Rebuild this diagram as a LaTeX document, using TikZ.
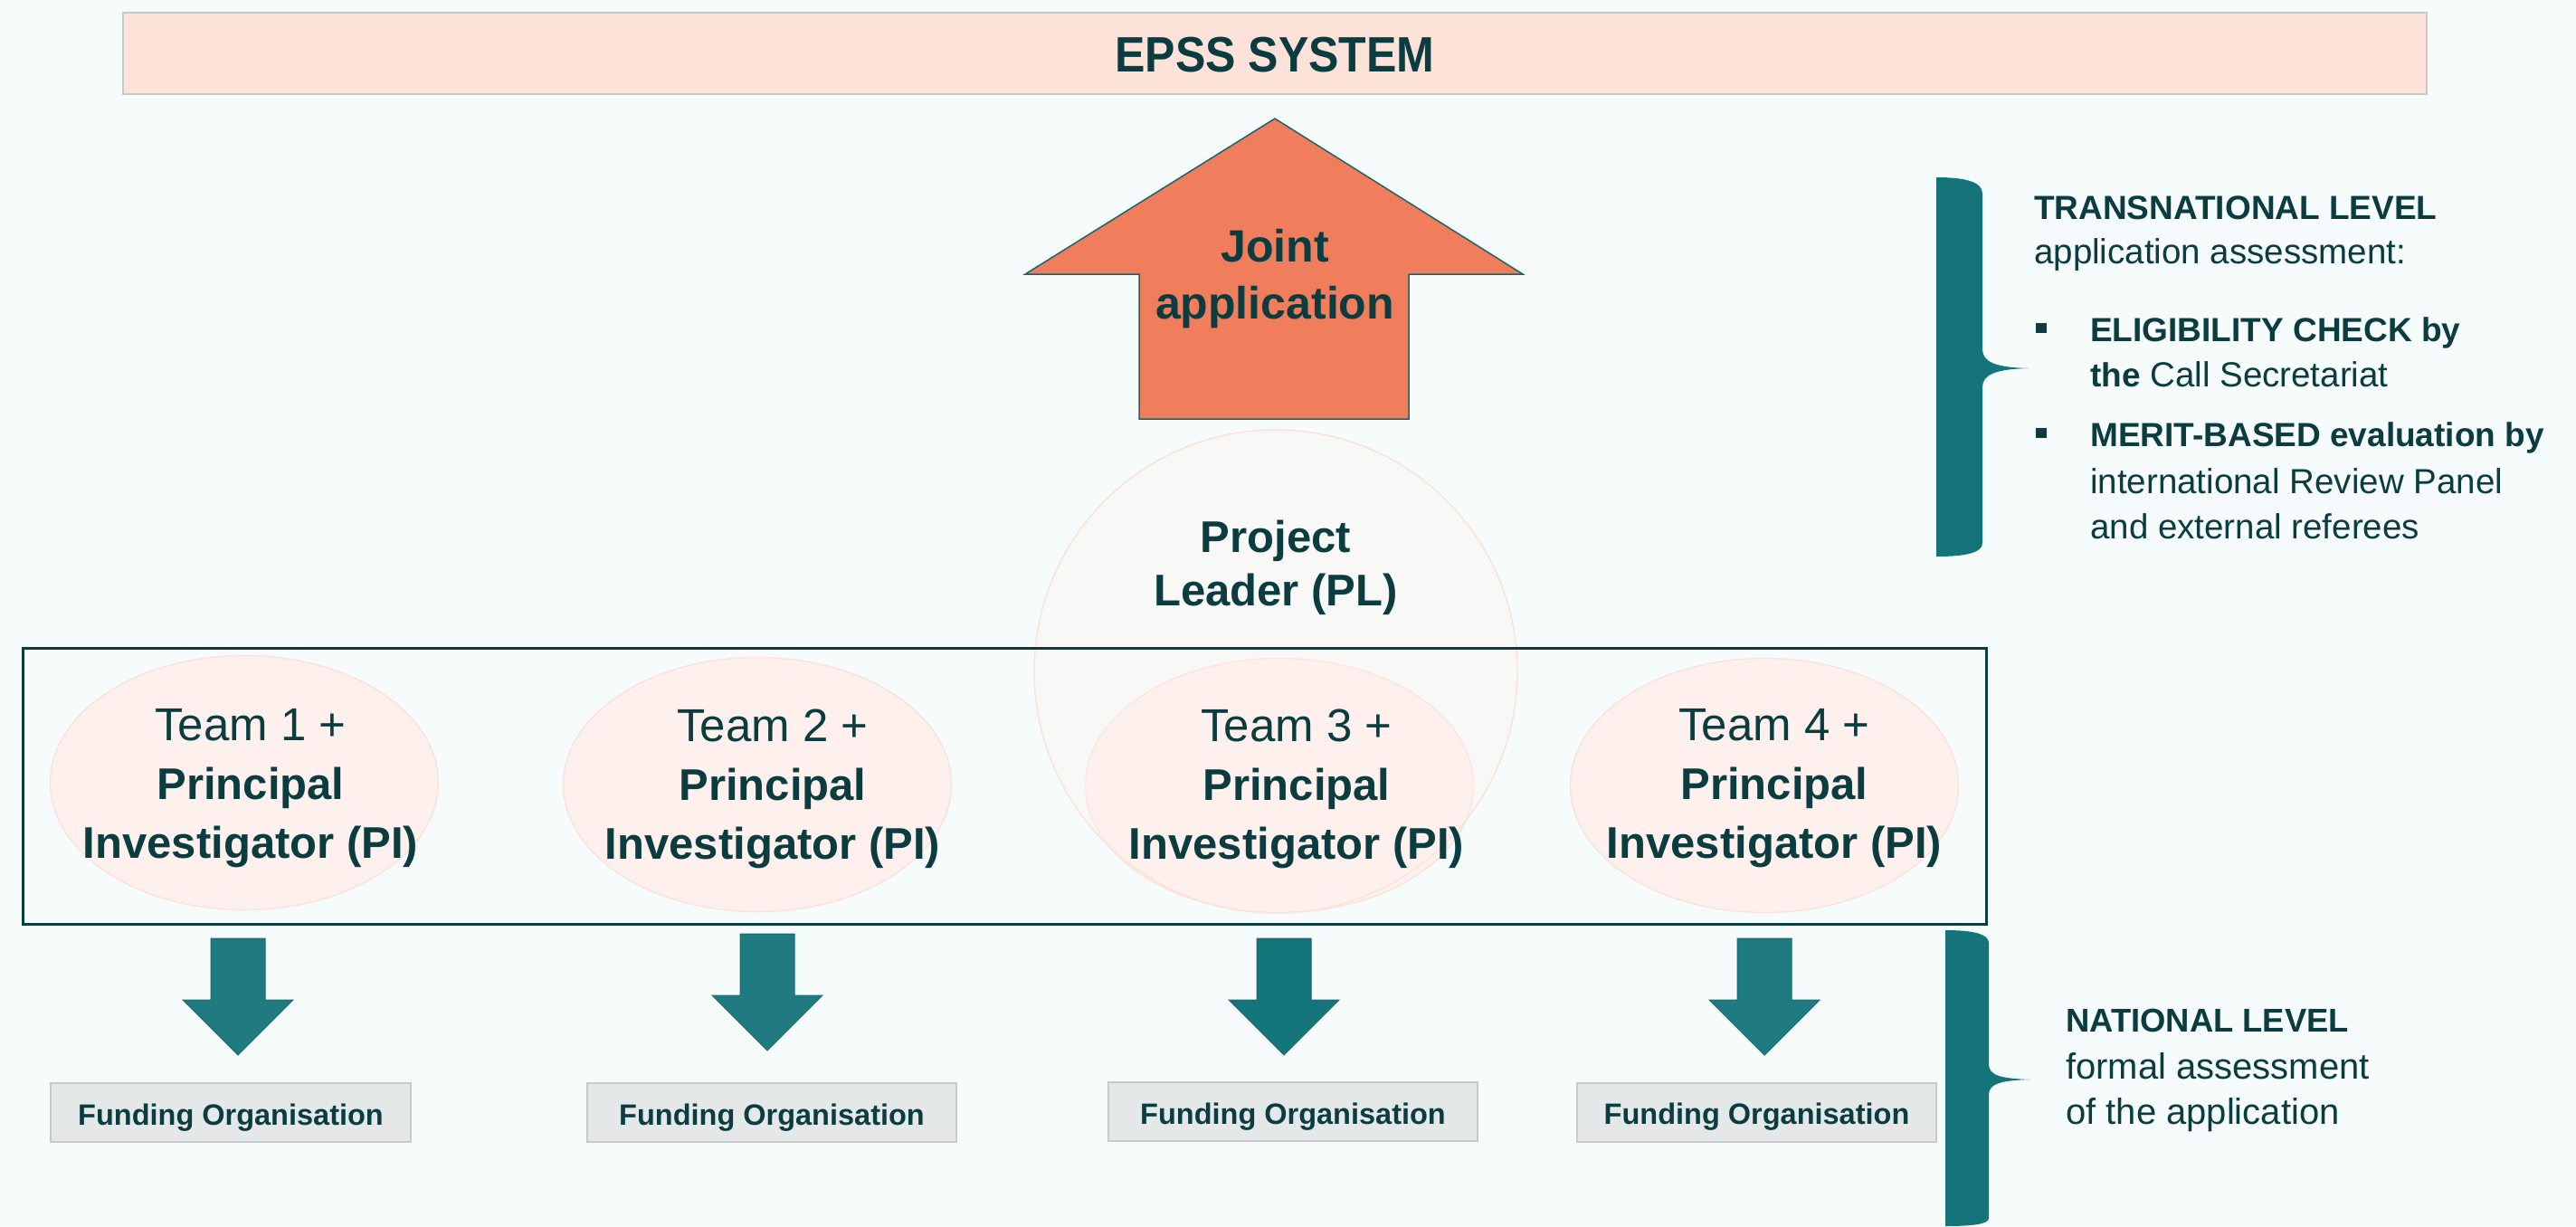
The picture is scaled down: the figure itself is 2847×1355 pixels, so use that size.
\documentclass[tikz,border=0pt]{standalone}
\usepackage{fontspec}
\setmainfont{Liberation Sans}
\newfontfamily\narrowsans[FakeStretch=0.91]{Liberation Sans}
\usetikzlibrary{shapes.geometric}
\definecolor{bgc}{HTML}{F6FCFC}
\definecolor{txtc}{HTML}{0B3C40}
\definecolor{epssfill}{HTML}{FCE2D9}
\definecolor{grayline}{HTML}{C9C9C9}
\definecolor{coral}{HTML}{F07D5C}
\definecolor{coralline}{HTML}{1B6469}
\definecolor{pinkfill}{HTML}{FEF1ED}
\definecolor{pinkline}{HTML}{FBE3DC}
\definecolor{tealA}{HTML}{1F7B80}
\definecolor{tealB}{HTML}{13747A}
\definecolor{tealline}{HTML}{1A6A70}
\definecolor{bracec}{HTML}{147479}
\definecolor{fofill}{HTML}{E5E8E8}
\newcommand{\myfs}[2]{\fontsize{#1pt}{#2pt}\selectfont}
\tikzset{
  txt/.style={text=txtc, inner sep=0pt},
  teamell/.style={ellipse, fill=pinkfill, draw=pinkline, line width=1.5pt, minimum width=429, minimum height=281, inner sep=0pt},
  teamtxt/.style={txt, anchor=north, align=center, font=\myfs{51}{65}},
  fobox/.style={rectangle, fill=fofill, draw=grayline, line width=2pt, minimum width=398, minimum height=65, inner sep=0pt, text height=27pt, text depth=0pt, text=txtc, font=\myfs{32.5}{36}\bfseries},
  rbold/.style={txt, anchor=base west, font=\myfs{37}{40}\bfseries},
  rreg/.style={txt, anchor=base west, font=\myfs{38.5}{40}},
  pics/downarr/.style={code={
    \fill[#1, draw=tealline, line width=1pt] (-30,0) -- (30,0) -- (30,68) -- (61,68) -- (0,129) -- (-61,68) -- (-30,68) -- cycle;
  }}
}
\begin{document}
\begin{tikzpicture}[x=1pt, y=-1pt]
\useasboundingbox (0,0) rectangle (2847,1355);
\fill[bgc] (0,0) rectangle (2847,1355);

% EPSS system bar
\node[rectangle, fill=epssfill, draw=grayline, line width=2.5pt, minimum width=2546, minimum height=90, inner sep=0pt] (epss) at (1409,59) {};
\node[txt, font=\narrowsans\myfs{55}{60}\bfseries] (epsstxt) at (1409,60.5) {EPSS SYSTEM};

% Joint application up arrow
\fill[coral, draw=coralline, line width=1.5pt] (1409,131) -- (1683,303) -- (1557,303) -- (1557,463) -- (1259,463) -- (1259,303) -- (1133,303) -- cycle;
\node[txt, anchor=north, align=center, font=\myfs{50}{63}\bfseries] (joint) at (1409,253.5) {Joint\\application};

% Team ellipses
\node[teamell] (team1) at (270,865) {};
\node[teamell] (team2) at (837,867) {};
\node[teamell] (team3) at (1414,868) {};
\node[teamell] (team4) at (1950,868) {};

% Project leader circle
\node[circle, fill=pinkfill, fill opacity=0.35, draw=pinkline, line width=1.5pt, minimum size=534, inner sep=0pt] (pl) at (1410,742) {};
\node[txt, anchor=north, align=center, font=\myfs{49}{59}\bfseries] (pltxt) at (1410,575) {Project\\Leader (PL)};

% Frame around teams
\node[rectangle, draw=txtc, line width=3pt, minimum width=2170, minimum height=305, inner sep=0pt] (frame) at (1110,868.5) {};

% Team texts
\node[teamtxt] (t1) at (277,783.5) {Team 1 +\\{\myfs{49}{65}\bfseries Principal}\\{\myfs{49}{65}\bfseries Investigator (PI)}};
\node[teamtxt] (t2) at (854,783.5) {Team 2 +\\{\myfs{49}{65}\bfseries Principal}\\{\myfs{49}{65}\bfseries Investigator (PI)}};
\node[teamtxt] (t3) at (1433,783.5) {Team 3 +\\{\myfs{49}{65}\bfseries Principal}\\{\myfs{49}{65}\bfseries Investigator (PI)}};
\node[teamtxt] (t4) at (1961,783.5) {Team 4 +\\{\myfs{49}{65}\bfseries Principal}\\{\myfs{49}{65}\bfseries Investigator (PI)}};

% Down arrows
\pic at (263,1037) {downarr=tealA};
\pic at (848,1032) {downarr=tealA};
\pic at (1419,1037) {downarr=tealB};
\pic at (1950,1037) {downarr=tealA};

% Funding organisation boxes
\node[fobox] (fo1) at (255,1229.5) {Funding Organisation};
\node[fobox, minimum width=408] (fo2) at (853,1229.5) {Funding Organisation};
\node[fobox, minimum width=408] (fo3) at (1429,1228.5) {Funding Organisation};
\node[fobox, minimum width=397] (fo4) at (1941.5,1229) {Funding Organisation};

% Braces
\fill[bracec] (2140,196) .. controls (2172,196) and (2191,201) .. (2191,214) -- (2191,386) .. controls (2191,400) and (2205,406) .. (2242,407) .. controls (2205,408) and (2191,414) .. (2191,428) -- (2191,600) .. controls (2191,611) and (2172,615) .. (2140,615) -- cycle;
\fill[bracec] (2150,1028) .. controls (2180,1028) and (2198,1032) .. (2198,1042) -- (2198,1176) .. controls (2198,1188) and (2210,1192) .. (2244,1193) .. controls (2210,1194) and (2198,1198) .. (2198,1210) -- (2198,1346) .. controls (2198,1352) and (2185,1355) .. (2150,1355) -- cycle;

% Transnational text
\node[rbold] (trans) at (2248,242) {TRANSNATIONAL LEVEL};
\node[rreg] (transsub) at (2248,291) {application assessment:};
\fill[txtc] (2250,357) rectangle (2262,368);
\fill[txtc] (2250,473) rectangle (2262,484);
\node[rbold] (elig) at (2310,377) {ELIGIBILITY CHECK by};
\node[rreg] (elig2) at (2310,427) {{\myfs{37}{40}\bfseries the} Call Secretariat};
\node[rbold] (merit) at (2310,493) {MERIT-BASED evaluation by};
\node[rreg] (merit2) at (2310,545) {international Review Panel};
\node[rreg] (merit3) at (2310,595) {and external referees};

% National text
\node[rbold, font=\myfs{36.4}{40}\bfseries] (nat) at (2283,1140) {NATIONAL LEVEL};
\node[rreg, font=\myfs{40}{44}] (nat2) at (2283,1192) {formal assessment};
\node[rreg, font=\myfs{40}{44}] (nat3) at (2283,1242) {of the application};
\end{tikzpicture}
\end{document}
